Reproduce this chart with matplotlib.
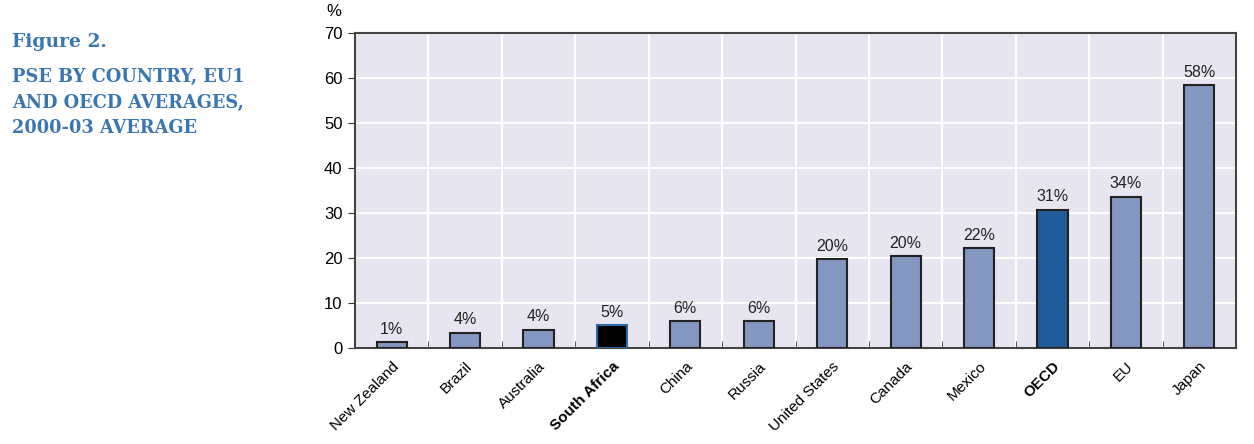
import matplotlib
matplotlib.use("Agg")
import matplotlib.pyplot as plt
import numpy as np

# Daten
countries = ["New Zealand", "Brazil", "Australia", "South Africa", "China", "Russia",
             "United States", "Canada", "Mexico", "OECD", "EU", "Japan"]
pse = [1.3, 3.4, 4.1, 5.1, 6.0, 6.0, 19.8, 20.4, 22.2, 30.7, 33.6, 58.4]
labels = ["1%", "4%", "4%", "5%", "6%", "6%", "20%", "20%", "22%", "31%", "34%", "58%"]
bold_labels = ["South Africa", "OECD"]

plt.rcParams['font.family'] = ['Liberation Sans Narrow', 'Liberation Sans', 'DejaVu Sans']

fig = plt.figure(figsize=(12.54, 4.44), dpi=100)
ax = fig.add_axes([355 / 1254, 1 - 348 / 444, 881 / 1254, 315 / 444])

colors = []
edges = []
for c in countries:
    if c == "South Africa":
        colors.append("#000000")
        edges.append("#2a6aa8")
    elif c == "OECD":
        colors.append("#1f5c99")
        edges.append("#222222")
    else:
        colors.append("#8497c0")
        edges.append("#222222")

x = np.arange(len(countries))
ax.set_facecolor("#e7e6f0")
ax.bar(x, pse, width=0.41, color=colors, edgecolor=edges, linewidth=1.5, zorder=3)

for xi, v, lab in zip(x, pse, labels):
    ax.text(xi, v + 1.2, lab, ha="center", va="bottom", fontsize=11.5, color="#222222")

ax.set_xlim(-0.5, len(countries) - 0.5)
ax.set_ylim(0, 70)
ax.set_yticks(range(0, 71, 10))
ax.set_xticks(x)
ax.set_xticklabels(countries, rotation=45, ha="right", rotation_mode="anchor", fontsize=11)
for t in ax.get_xticklabels():
    if t.get_text() in bold_labels:
        t.set_fontweight("bold")
ax.tick_params(axis="y", labelsize=12, length=5, color="#333333", pad=4)
ax.tick_params(axis="x", length=0, pad=8)

# Gitter: horizontale Linien und vertikale Trennlinien zwischen Kategorien
ax.set_xticks(np.arange(-0.5, len(countries), 1), minor=True)
ax.grid(axis="y", color="white", linewidth=1.5, zorder=0)
ax.grid(axis="x", which="minor", color="white", linewidth=1.5, zorder=0)
ax.tick_params(axis="x", which="minor", length=5, direction="in", color="#333333")
ax.set_axisbelow(True)

for s in ax.spines.values():
    s.set_color("#444444")
    s.set_linewidth(1.5)

fig.text(334 / 1254, 1 - 12 / 444, "%", ha="center", va="center", fontsize=12)

title_col = "#3a76b2"
fig.text(12 / 1254, 1 - 42 / 444, "Figure 2.", fontsize=13.5, fontweight="bold",
         family="DejaVu Serif", color=title_col, va="center")
fig.text(12 / 1254, 1 - 68 / 444, "PSE BY COUNTRY, EU1\nAND OECD AVERAGES,\n2000-03 AVERAGE",
         fontsize=12.8, fontweight="bold", family="DejaVu Serif", color=title_col,
         va="top", linespacing=1.55)

fig.savefig("out.png", dpi=100)
